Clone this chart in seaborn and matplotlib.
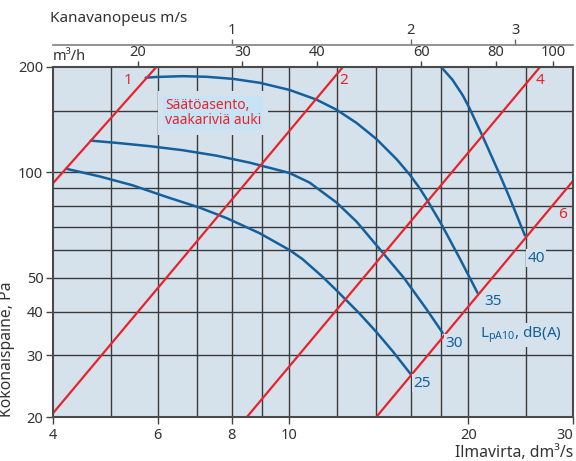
import matplotlib
matplotlib.use("Agg")
import matplotlib.pyplot as plt
import matplotlib.ticker as mticker
import pandas as pd
import seaborn as sns

sns.set_theme(style="white")
plt.rcParams['font.family'] = ['Noto Sans', 'DejaVu Sans']
plt.rcParams['mathtext.default'] = 'regular'

# Sound level curves: airflow (dm³/s) vs total pressure (Pa)
q25 = [4.21, 4.80, 5.45, 6.22, 7.06, 7.84, 8.91, 10.0, 10.52, 11.37, 12.0, 13.1, 14.0, 14.9, 16.0]
p25 = [102.4, 97.3, 91.8, 85.0, 79.3, 74.0, 67.0, 60.0, 56.5, 50.3, 46.0, 39.6, 35.0, 30.9, 26.5]
q30 = [4.63, 5.12, 5.82, 6.61, 7.54, 8.57, 10.0, 10.81, 12.0, 12.97, 14.17, 15.6, 16.98, 18.1]
p30 = [123.2, 121.4, 118.8, 115.7, 111.6, 106.6, 99.6, 93.5, 82.0, 72.3, 60.5, 49.8, 40.8, 34.8]
q35 = [5.73, 5.98, 6.61, 7.26, 8.03, 8.91, 10.0, 11.1, 12.0, 12.97, 14.0, 15.14, 15.92, 16.54, 17.06, 18.0, 19.3, 20.72]
p35 = [186.4, 187.3, 188.3, 187.5, 185.0, 180.3, 172.0, 161.4, 151.0, 138.4, 124.6, 109.1, 98.7, 90.4, 83.2, 71.3, 57.2, 45.3]
q40 = [18.0, 18.8, 19.57, 20.07, 21.15, 22.5, 23.44, 24.9]
p40 = [200.0, 184.0, 166.0, 153.0, 126.5, 100.0, 85.0, 66.0]
level_names = ["25", "30", "35", "40"]

# Damper position lines (end points)
damper_names = ["1", "2", "4", "6"]
damper_q = [[4.0, 5.97], [4.0, 12.3], [8.48, 26.4], [14.0, 30.0]]
damper_p = [[93.1, 200.0], [20.5, 200.0], [20.0, 200.0], [20.0, 94.5]]

x_ticks = [4, 6, 8, 10, 20, 30]
y_ticks = [20, 30, 40, 50, 100, 200]
x_grid = [5, 6, 7, 8, 9, 10, 12, 14, 16, 18, 20, 25]
y_grid = [30, 40, 50, 60, 70, 80, 90, 100, 150]
flow_m3h_ticks = [20, 30, 40, 60, 80, 100]
velocity_ticks = [1, 2, 3]

BG = '#d5e2ec'
BLUE = '#14609d'
RED = '#e8232b'
TXT = '#333333'

fig = plt.figure(figsize=(5.76, 4.61), dpi=100)
ax = fig.add_axes([53 / 576, 44 / 461, 520 / 576, 350 / 461])
ax.set_facecolor(BG)
ax.set_xscale('log')
ax.set_yscale('log')
ax.set_xlim(4, 30)
ax.set_ylim(20, 200)

for gx in x_grid:
    ax.axvline(gx, color='#3a3a3a', lw=1.0, zorder=1)
for gy in y_grid:
    ax.axhline(gy, color='#3a3a3a', lw=1.0, zorder=1)

curves = pd.concat([
    pd.DataFrame({'q': q, 'p': p, 'level': n})
    for q, p, n in zip([q25, q30, q35, q40], [p25, p30, p35, p40], level_names)
])
for name in level_names:
    sub = curves[curves['level'] == name]
    sns.lineplot(data=sub, x='q', y='p', sort=False, estimator=None,
                 color=BLUE, lw=1.8, ax=ax, zorder=3)

dampers = pd.concat([
    pd.DataFrame({'q': q, 'p': p, 'pos': n})
    for q, p, n in zip(damper_q, damper_p, damper_names)
])
for name in damper_names:
    sub = dampers[dampers['pos'] == name]
    sns.lineplot(data=sub, x='q', y='p', sort=False, estimator=None,
                 color=RED, lw=1.6, ax=ax, zorder=4)

# damper position labels
for txt, (x, y) in zip(damper_names, [(5.35, 183), (12.35, 183), (26.4, 183), (28.8, 76)]):
    ax.text(x, y, txt, color=RED, fontsize=11, ha='center', va='center', zorder=6)

# sound level labels
for txt, (x, y) in zip(level_names, [(16.7, 25.0), (18.9, 32.5), (22.0, 42.9), (26.0, 56.9)]):
    ax.text(x, y, txt, color=BLUE, fontsize=11, ha='center', va='center', zorder=6,
            bbox=dict(facecolor=BG, edgecolor='none', pad=1.0))
ax.text(20.95, 34.3, r'$L_{pA10}$, dB(A)', color=BLUE, fontsize=11,
        ha='left', va='center', zorder=6,
        bbox=dict(facecolor=BG, edgecolor='none', pad=1.5))

note = "Säätöasento,\nvaakariviä auki"
ax.text(6.17, 163, note, color='none', fontsize=10, ha='left', va='top',
        linespacing=1.0, zorder=5, bbox=dict(facecolor=BG, edgecolor='none', pad=5))
ax.text(6.17, 163, note, color=RED, fontsize=10, ha='left', va='top',
        linespacing=1.0, zorder=6, bbox=dict(facecolor='#c6e4f5', edgecolor='none', pad=1.2))

ax.set_xticks(x_ticks)
ax.set_xticklabels([str(v) for v in x_ticks])
ax.get_xticklabels()[-1].set_horizontalalignment('right')
ax.xaxis.set_minor_locator(mticker.NullLocator())
ax.set_yticks(y_ticks)
ax.set_yticklabels([str(v) for v in y_ticks])
ax.yaxis.set_minor_locator(mticker.NullLocator())
ax.tick_params(axis='both', direction='out', length=5, width=1.0, color='#444444',
               labelsize=10.5, labelcolor=TXT, pad=2)
ax.tick_params(axis='x', bottom=True, pad=3)
ax.tick_params(axis='y', left=True)
for s in ax.spines.values():
    s.set_color('#4a4a4a')
    s.set_linewidth(1.5)
    s.set_zorder(7)

ax.set_xlabel("Ilmavirta, dm³/s", loc='right', fontsize=11.3, color=TXT, labelpad=1)
ax.set_ylabel("Kokonaispaine, Pa", loc='bottom', fontsize=11.3, color=TXT, labelpad=2)

# secondary axis: airflow in m³/h
sec1 = ax.secondary_xaxis('top', functions=(lambda q: q * 3.6, lambda m: m / 3.6))
sec1.set_xticks(flow_m3h_ticks)
sec1.set_xticklabels([str(v) for v in flow_m3h_ticks])
sec1.xaxis.set_minor_locator(mticker.NullLocator())
sec1.tick_params(direction='out', length=4, width=1.0, color='#444444',
                 labelsize=10.5, labelcolor=TXT, pad=1)
for s in sec1.spines.values():
    s.set_visible(False)
ax.annotate("m³/h", xy=(0, 1), xycoords='axes fraction', xytext=(0, 2),
            textcoords='offset points', ha='left', va='bottom', fontsize=10.5, color=TXT)

# secondary axis: duct velocity in m/s
sec2 = ax.secondary_xaxis(1 + 22 / 350, functions=(lambda q: q / 8.0, lambda v: v * 8.0))
sec2.set_xticks(velocity_ticks)
sec2.set_xticklabels([str(v) for v in velocity_ticks])
sec2.xaxis.set_minor_locator(mticker.NullLocator())
sec2.tick_params(direction='out', length=4, width=1.0, color='#666666',
                 labelsize=10.5, labelcolor=TXT, pad=1)
for s in sec2.spines.values():
    s.set_color('#808080')
    s.set_linewidth(1.2)

fig.text(50 / 576, 1 - 19 / 461, "Kanavanopeus m/s", ha='left', va='center',
         fontsize=11, color=TXT)

fig.savefig("out.png", dpi=100, facecolor='white')
